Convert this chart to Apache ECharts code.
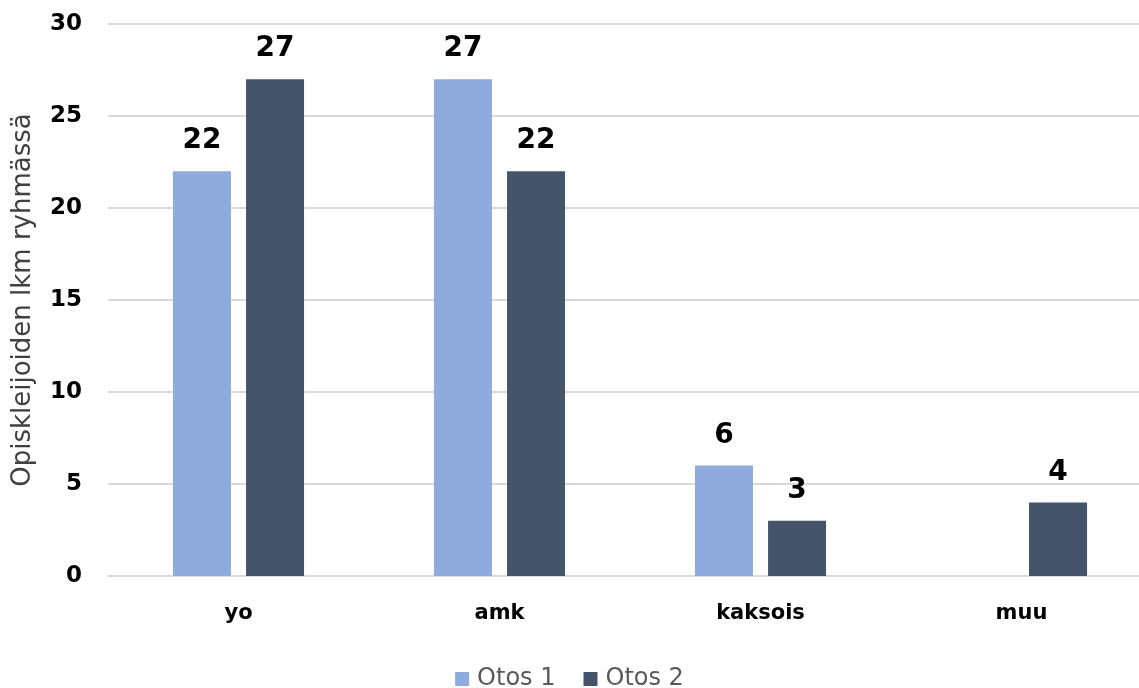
<!DOCTYPE html>
<html>
<head>
<meta charset="utf-8">
<script src="https://cdn.jsdelivr.net/npm/echarts@6/dist/echarts.min.js"></script>
<style>html,body{margin:0;padding:0;background:#fff}#c{width:1139px;height:688px}</style>
</head>
<body>
<div id="c"></div>
<script>
const categories = ['yo', 'amk', 'kaksois', 'muu'];
const otos1 = [22, 27, 6, null];
const otos2 = [27, 22, 3, 4];
const seriesNames = ['Otos 1', 'Otos 2'];
const yAxisName = 'Opiskleijoiden lkm ryhmässä';

const FONT = '"DejaVu Sans", Verdana, sans-serif';
const chart = echarts.init(document.getElementById('c'));
const labelStyle = {
  show: true, position: 'top', distance: 16,
  fontFamily: FONT, fontWeight: 'bold', fontSize: 28, color: '#000'
};
chart.setOption({
  animation: false,
  grid: { left: 108, right: -13, top: 24, bottom: 112, outerBoundsMode: 'none', containLabel: false },
  legend: {
    top: 662, left: 'center', itemWidth: 14, itemHeight: 14, itemGap: 28, icon: 'rect',
    textStyle: { fontFamily: FONT, fontSize: 24, color: '#595959', padding: [0, 0, 0, 3] },
    data: seriesNames
  },
  xAxis: {
    type: 'category', data: categories,
    axisLine: { lineStyle: { color: '#d9d9d9', width: 2 } },
    axisTick: { show: false },
    axisLabel: { margin: 27, fontFamily: FONT, fontWeight: 'bold', fontSize: 21, color: '#000' }
  },
  yAxis: {
    type: 'value', min: 0, max: 30, interval: 5,
    name: yAxisName, nameLocation: 'middle', nameGap: 72, nameRotate: 90,
    nameTextStyle: { fontFamily: FONT, fontSize: 26, color: '#404040' },
    axisLine: { show: false }, axisTick: { show: false },
    axisLabel: { margin: 26, fontFamily: FONT, fontWeight: 'bold', fontSize: 23, color: '#000' },
    splitLine: { lineStyle: { color: '#d9d9d9', width: 2 } }
  },
  series: [
    { name: seriesNames[0], type: 'bar', data: otos1, barWidth: 58, barGap: '26%',
      itemStyle: { color: '#8faadc' }, label: labelStyle },
    { name: seriesNames[1], type: 'bar', data: otos2, barWidth: 58,
      itemStyle: { color: '#44546a' }, label: labelStyle }
  ]
});
</script>
</body>
</html>
